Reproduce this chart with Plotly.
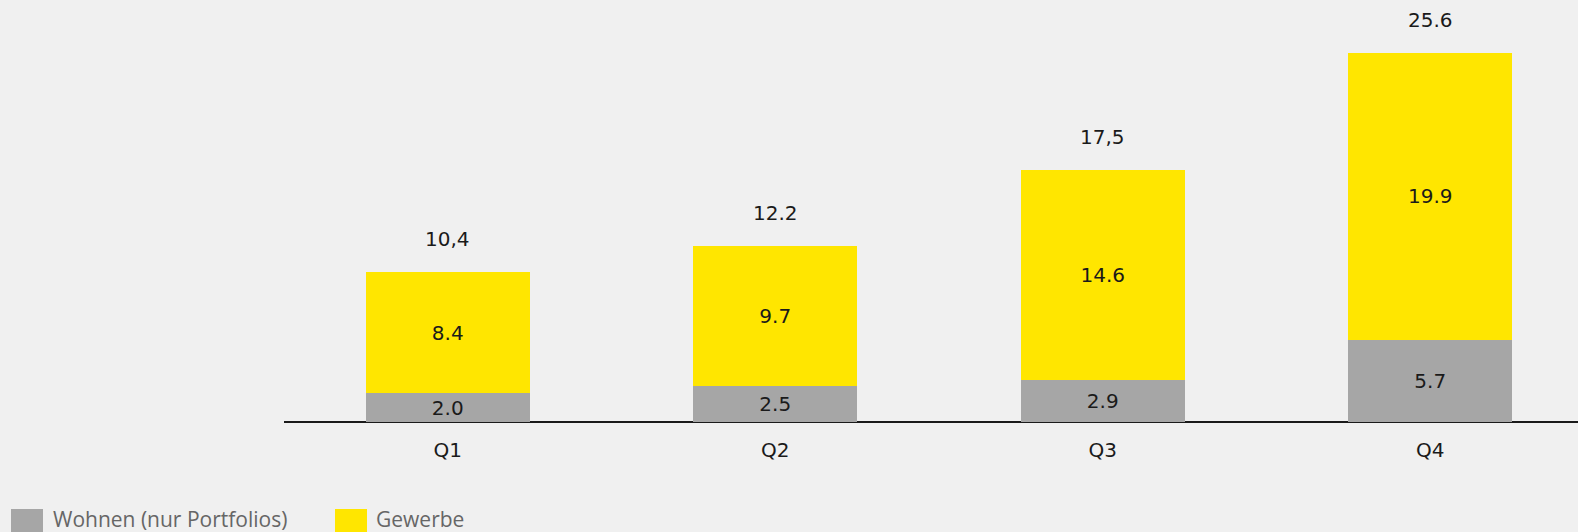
import plotly.graph_objects as go

categories = ["Q1", "Q2", "Q3", "Q4"]
wohnen = [2.0, 2.5, 2.9, 5.7]
gewerbe = [8.4, 9.7, 14.6, 19.9]
totals = [10.4, 12.2, 17.5, 25.6]
total_labels = ["10,4", "12.2", "17,5", "25.6"]
series_names = ["Wohnen (nur Portfolios)", "Gewerbe"]
series_colors = ["#A6A6A6", "#FFE600"]

W, H = 1578, 532
ML, MR, MT, MB = 284, 0, 0, 110
PW, PH = W - ML - MR, H - MT - MB

def px_x(p):
    return (p - ML) / PW

def px_y(p):
    return (H - MB - p) / PH

num_font = dict(family="DejaVu Sans", size=20, color="#1a1a1a")

fig = go.Figure()
for name, vals, col in zip(series_names, [wohnen, gewerbe], series_colors):
    fig.add_trace(go.Bar(
        x=categories, y=vals, name=name, marker=dict(color=col, line=dict(width=0)),
        width=0.5, text=[f"{v:.1f}" for v in vals], textposition="inside",
        insidetextanchor="middle", constraintext="none", textfont=num_font,
        hoverinfo="skip", showlegend=False,
    ))

for c, t, lab in zip(categories, totals, total_labels):
    fig.add_annotation(x=c, y=t, text=lab, showarrow=False, yanchor="middle",
                       yshift=33, font=num_font)

# legend
leg_sq_x = [11, 335]
leg_txt_x = [51, 374]
for name, col, sx, tx in zip(series_names, series_colors, leg_sq_x, leg_txt_x):
    fig.add_shape(type="rect", xref="paper", yref="paper",
                  x0=px_x(sx), x1=px_x(sx + 32), y0=px_y(509), y1=px_y(532),
                  fillcolor=col, line=dict(width=0), layer="above")
    fig.add_annotation(xref="paper", yref="paper", x=px_x(tx), y=px_y(519),
                       text=name, showarrow=False, xanchor="left", yanchor="middle",
                       font=dict(family="Open Sans", size=21, color="#666666"))

fig.update_layout(
    width=W, height=H, barmode="stack", bargap=0.5,
    paper_bgcolor="#F0F0F0", plot_bgcolor="#F0F0F0",
    margin=dict(l=ML, r=MR, t=MT, b=MB),
    xaxis=dict(range=[-0.5, -0.5 + PW / 327.5], showgrid=False, zeroline=False,
               showline=False, ticks="outside", ticklen=10, tickcolor="rgba(0,0,0,0)",
               tickfont=num_font, fixedrange=True),
    yaxis=dict(range=[0, PH / 14.42], showgrid=False, zeroline=True,
               zerolinecolor="#1a1a1a", zerolinewidth=2, showticklabels=False,
               showline=False, fixedrange=True),
    showlegend=False,
)

post = (
    "document.documentElement.style.margin='0';"
    "document.documentElement.style.padding='0';"
    "document.documentElement.style.overflow='hidden';"
    "document.documentElement.style.height='532px';"
    "document.body.style.margin='0';"
    "document.body.style.padding='0';"
    "document.body.style.overflow='hidden';"
    "document.body.style.height='532px';"
    "document.body.style.background='#F0F0F0';"
    "document.querySelectorAll('div').forEach(function(d){d.style.display='block';});"
)
fig.write_html("out.html", config={"displayModeBar": False, "staticPlot": True},
               post_script=post)
